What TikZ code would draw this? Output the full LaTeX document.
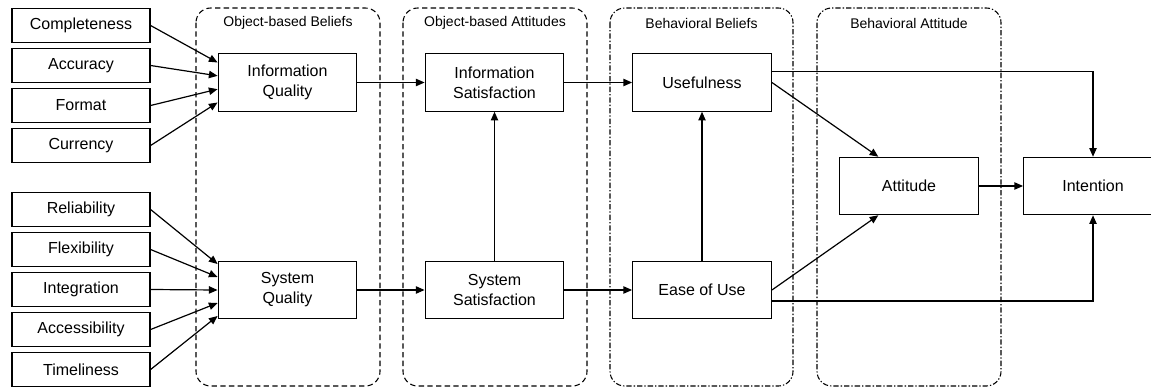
\documentclass[tikz,border=0pt]{standalone}
\usepackage{fontspec}
\setmainfont{Liberation Sans}
\usetikzlibrary{arrows.meta,positioning}

\begin{document}
\begin{tikzpicture}[x=0.75pt, y=-0.75pt, line width=0.9pt,
  font=\fontsize{12}{15}\selectfont,
  src/.style={draw, minimum width=103.5pt, minimum height=26pt, inner sep=0pt},
  var/.style={draw, minimum width=104pt, minimum height=43pt, inner sep=0pt, align=center},
  grp/.style={draw, line width=0.8pt, rounded corners=11pt, dash pattern=on 4pt off 2.5pt},
  grpdot/.style={draw, line width=0.8pt, rounded corners=11pt, dash pattern=on 4pt off 1.5pt on 1pt off 1.5pt},
  ttl/.style={font=\fontsize{10.5}{12}\selectfont},
  arr/.style={-{Triangle[length=6.5pt,width=5.5pt]}}]
\useasboundingbox (0,0) rectangle (1151,389);
% ---- groups ----
\draw[grp] (196,8) rectangle (380,386);
\node[ttl] (tob) at (288,23) {Object-based Beliefs};
\draw[grp] (403,8) rectangle (587,386);
\node[ttl] (toa) at (495,23) {Object-based Attitudes};
\draw[grpdot] (610,8) rectangle (793,386);
\node[ttl] (tbb) at (701.5,23) {Behavioral Beliefs};
\draw[grpdot] (817,8) rectangle (1001,386);
\node[ttl] (tba) at (909,23) {Behavioral Attitude};
% ---- constructs ----
\node[var] (iq) at (287.5,82.5) {Information\\Quality};
\node[var] (sq) at (287.5,290) {System\\Quality};
\node[var] (is) at (494.5,82.5) {Information\\Satisfaction};
\node[var] (ss) at (494.5,290) {System\\Satisfaction};
\node[var] (use) at (702,82.5) {Usefulness};
\node[var] (eou) at (702,290) {Ease of Use};
\node[var] (att) at (909,186) {Attitude};
\node[var] (int) at (1093,186) {Intention};
% ---- antecedents ----
\foreach \n/\t [count=\i] in {cmp/Completeness, acc/Accuracy, fmt/Format, cur/Currency}
  \node[src] (\n) at (81, 25.5+40*\i-40) {\t};
\foreach \n/\t [count=\i] in {rel/Reliability, flx/Flexibility, ign/Integration, acs/Accessibility, tml/Timeliness}
  \node[src] (\n) at (81, 209.5+40*\i-40) {\t};
\foreach \n/\dy in {cmp/15, acc/5, fmt/-5, cur/-15}
  \draw[arr] (\n.east) -- ([yshift=\dy pt]iq.west);
\foreach \n/\dy in {rel/19.5, flx/9.75, ign/0, acs/-9.75, tml/-19.5}
  \draw[arr] (\n.east) -- ([yshift=\dy pt]sq.west);
% ---- paths ----
\draw[arr] (iq) -- (is);
\draw[arr] (is) -- (use);
\draw[arr] (sq) -- (ss);
\draw[arr] (ss) -- (eou);
\draw[arr] (ss) -- (is);
\draw[arr] (eou) -- (use);
\draw[arr] (att) -- (int);
\draw[arr] (use.east) -- ([xshift=-23pt]att.north);
\draw[arr] (eou.east) -- ([xshift=-23pt]att.south);
\draw[arr] ([yshift=8pt]use.east) -| (int.north);
\draw[arr] ([yshift=-8.25pt]eou.east) -| (int.south);
\end{tikzpicture}
\end{document}
